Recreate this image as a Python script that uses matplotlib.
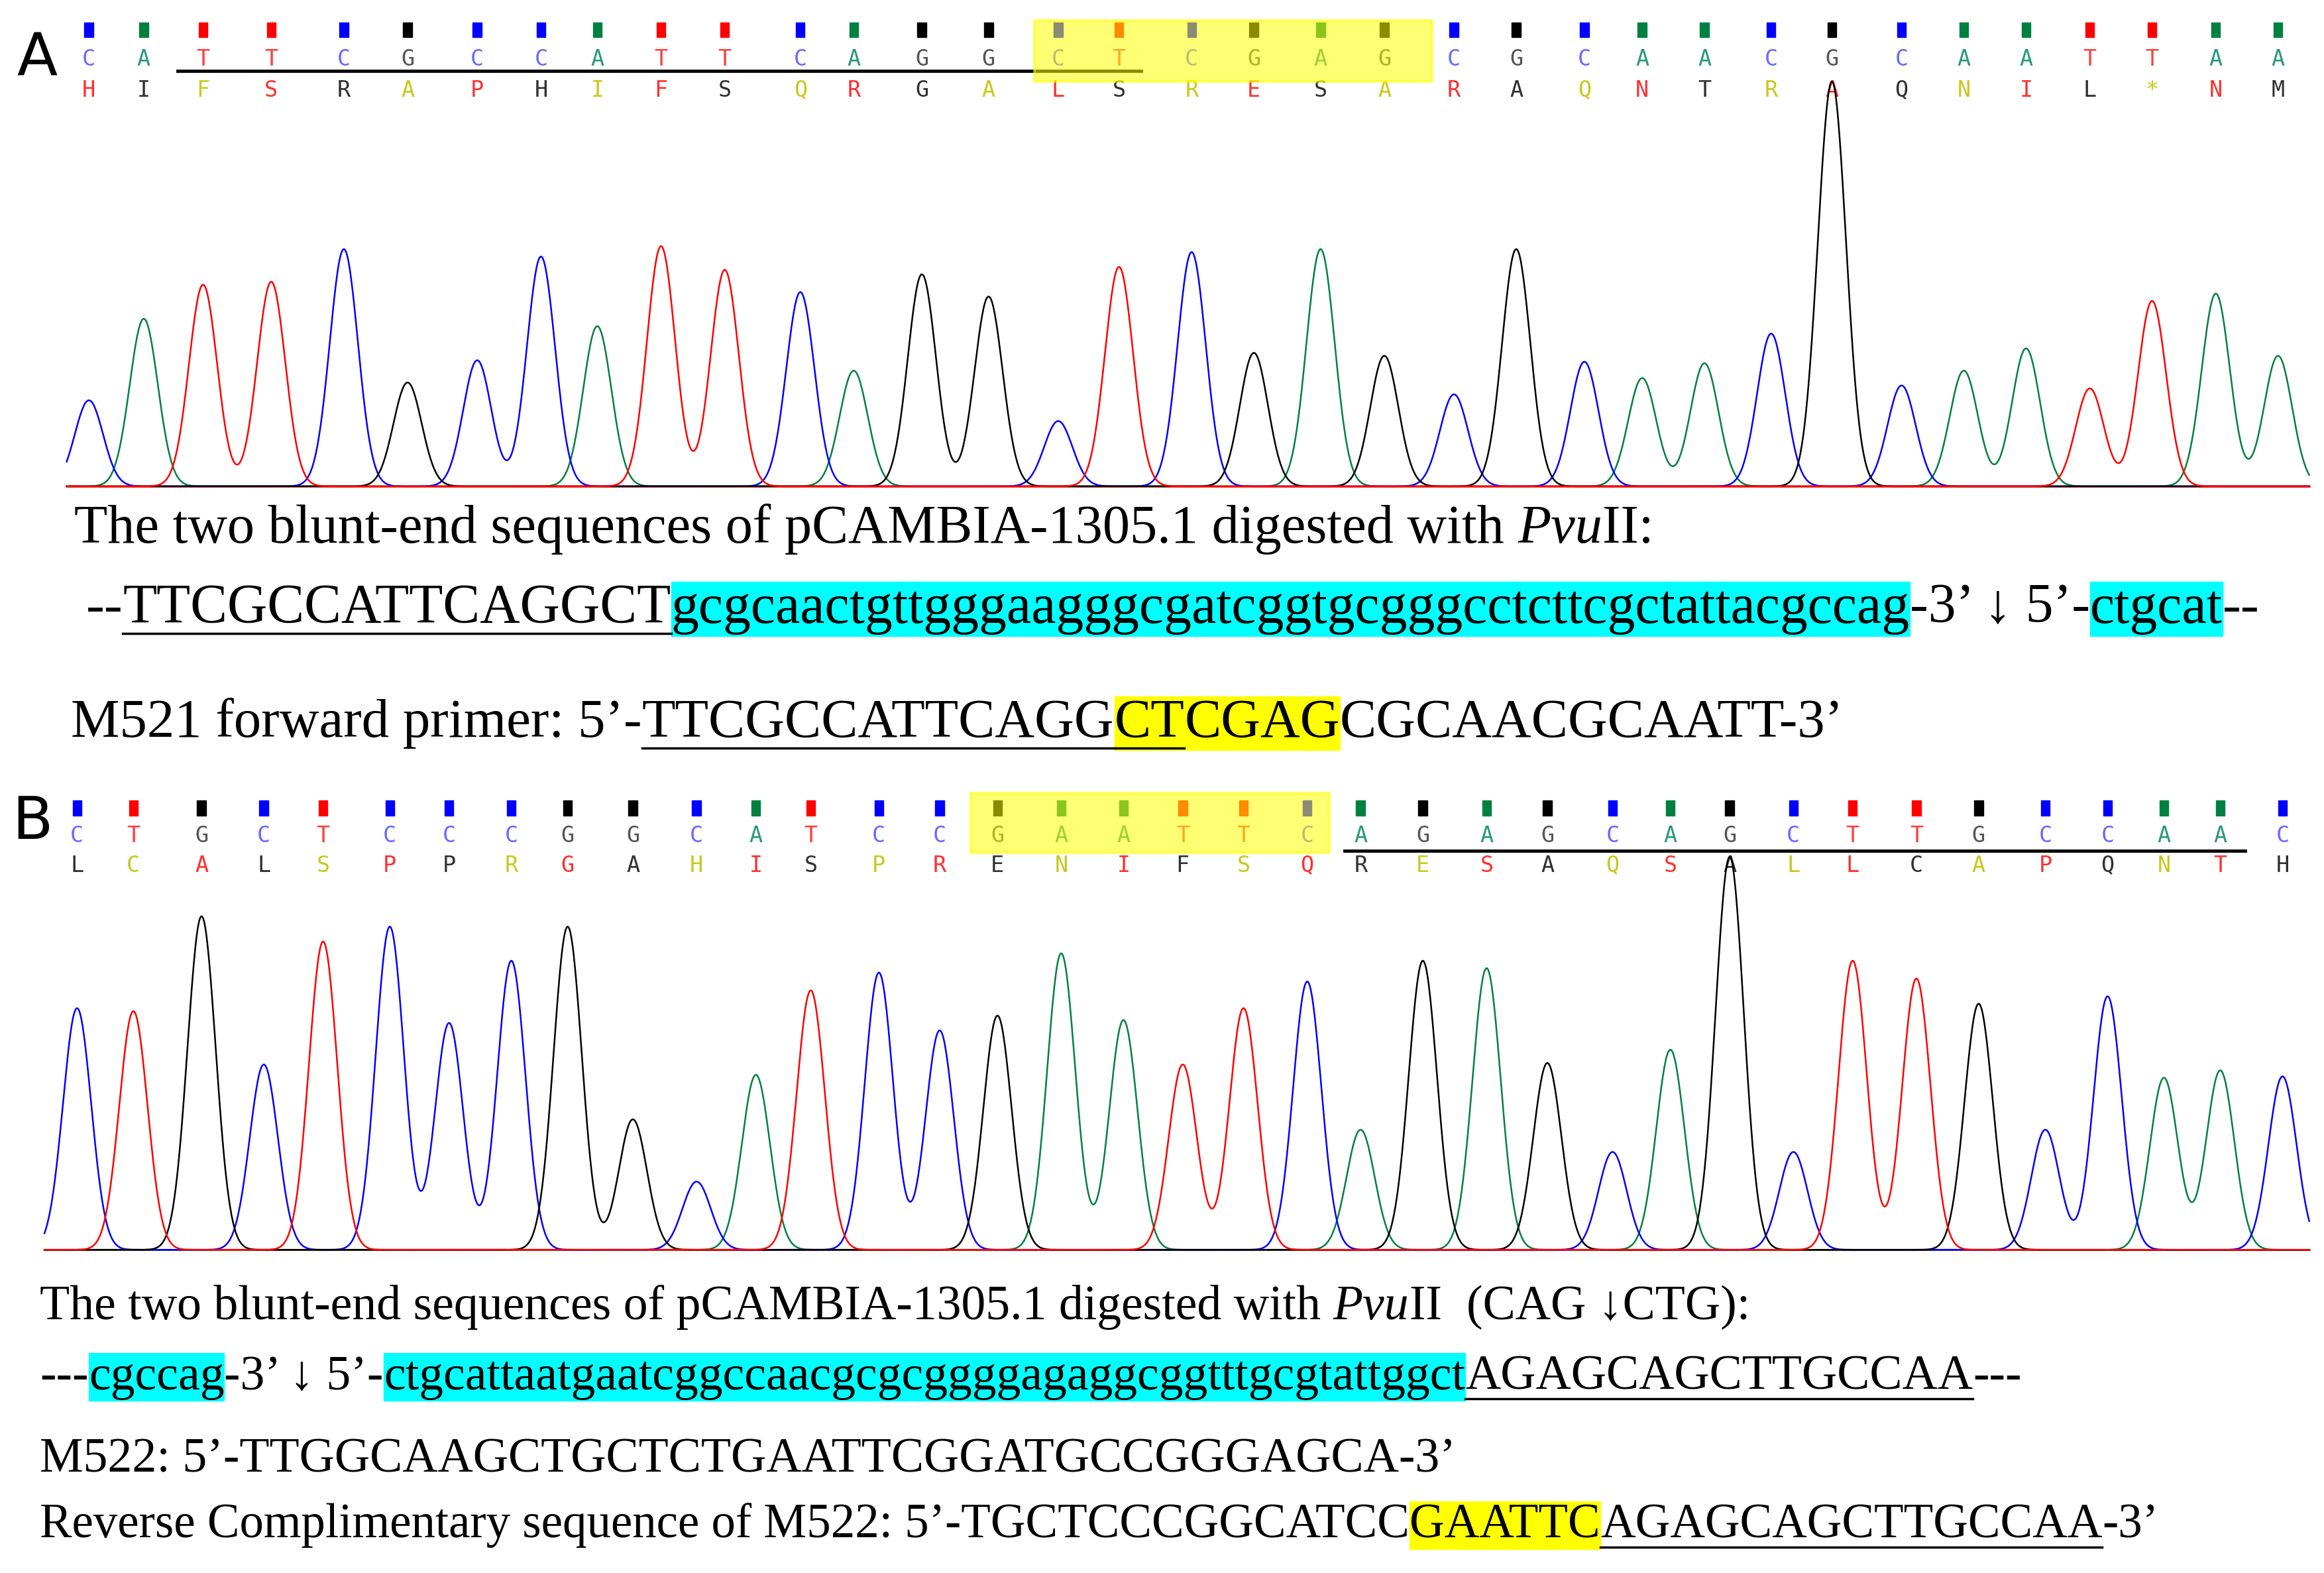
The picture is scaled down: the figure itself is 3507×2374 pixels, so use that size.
import numpy as np
import matplotlib
matplotlib.use("Agg")
import matplotlib.pyplot as plt
from matplotlib.patches import Rectangle

# ---- data ----
bases_a = list("CATTCGCCATTCAGGCTCGAGCGCAACGCAATTAA")
aa_a = list("HIFSRAPHIFSQRGALSRESARAQNTRAQNIL*NM")
aa_cols_a = ["r", "k", "y"] * 12
peak_x_a = [60, 97, 137, 183, 232, 275, 322, 365, 403, 446, 489, 540, 576, 622, 667,
            714, 755, 804, 846, 891, 934, 981, 1023, 1069, 1108, 1150, 1195, 1236,
            1283, 1325, 1367, 1410, 1452, 1495, 1537]
peak_h_a = [58, 113, 136, 138, 160, 70, 85, 155, 108, 162, 146, 131, 78, 143, 128,
            44, 148, 158, 90, 160, 88, 62, 160, 84, 73, 83, 103, 273,
            68, 78, 93, 66, 125, 130, 88]

bases_b = list("CTGCTCCCGGCATCCGAATTCAGAGCAGCTTGCCAAC")
aa_b = list("LCALSPPRGAHISPRENIFSQRESAQSALLCAPQNTH")
aa_cols_b = ["k", "y", "r"] * 13
peak_x_b = [52, 90, 136, 178, 218, 263, 303, 345, 383, 427, 470, 510, 547, 593, 634,
            673, 716, 758, 798, 839, 882, 918, 960, 1003, 1044, 1088, 1127, 1167,
            1210, 1250, 1293, 1335, 1380, 1422, 1460, 1498, 1540]
peak_h_b = [163, 161, 225, 125, 208, 218, 153, 195, 218, 88, 46, 118, 175, 187, 148,
            158, 200, 155, 125, 163, 181, 81, 195, 190, 126, 66, 135, 265,
            66, 195, 183, 166, 81, 171, 116, 121, 117]

BASE_COL = {"A": "#008040", "C": "#0000ff", "G": "#000000", "T": "#ff0000"}
LETTER_COL = {"A": "#2a9a7a", "C": "#6a6aff", "G": "#555555", "T": "#ff4040"}
AA_COL = {"r": "#ff3030", "k": "#303030", "y": "#c8c820"}

W, H = 1568, 1061
S = 3507 / W
fig = plt.figure(figsize=(35.07, 23.74), dpi=100)
ax = fig.add_axes([0, 0, 1, 1])
ax.set_xlim(0, W)
ax.set_ylim(H, 0)
ax.axis("off")


def fs(px):
    return px * S * 72 / 100


SERIF = ["Liberation Serif", "DejaVu Serif"]


def base_rows(bases, aas, aacols, xs, ymark, ybase, yaa):
    for b, a, c, x in zip(bases, aas, aacols, xs):
        ax.add_patch(Rectangle((x - 3, ymark - 5), 6, 10, color=BASE_COL[b], zorder=2))
        ax.text(x, ybase, b, ha="center", va="center", fontsize=fs(15),
                family="DejaVu Sans Mono", color=LETTER_COL[b], zorder=2)
        ax.text(x, yaa, a, ha="center", va="center", fontsize=fs(15),
                family="DejaVu Sans Mono", color=AA_COL[c], zorder=2)


def traces(bases, xs, hs, base_y, x0, x1, sigma=9.5):
    xx = np.linspace(x0, x1, 3000)
    for b in "ACGT":
        yy = np.zeros_like(xx)
        for bb, x, h in zip(bases, xs, hs):
            if bb == b:
                yy += h * np.exp(-0.5 * ((xx - x) / sigma) ** 2)
        ax.plot(xx, base_y - yy, color=BASE_COL[b], lw=1.8, zorder=3)
    ax.plot([x0, x1], [base_y, base_y], color="#ff0000", lw=1.8, zorder=2)


def runs(x, y, parts, size):
    r = fig.canvas.get_renderer()
    inv = ax.transData.inverted()
    for txt, style in parts:
        t = ax.text(x, y, txt, fontsize=fs(size), family=SERIF, va="baseline",
                    style="italic" if "it" in style else "normal", zorder=4)
        bb = t.get_window_extent(r)
        (xa, ya), (xb, yb) = inv.transform([[bb.x0, bb.y0], [bb.x1, bb.y1]])
        if "cyan" in style or "yel" in style:
            ax.add_patch(Rectangle((xa, y - size * 0.74), xb - xa, size * 0.98,
                                   color="#00ffff" if "cyan" in style else "#ffff00", zorder=1))
        if "ul" in style:
            ax.plot([xa, xb], [y + size * 0.2, y + size * 0.2], color="k", lw=2.5, zorder=4)
        x = xb
    return x


# ---- panel A ----
ax.text(25, 40, "A", fontsize=fs(40), ha="center", va="center", family="DejaVu Sans")
base_rows(bases_a, aa_a, aa_cols_a, peak_x_a, 20, 40, 61)
ax.plot([120, 770], [48, 48], color="k", lw=3.5, zorder=3)
ax.add_patch(Rectangle((698, 14), 268, 41, facecolor="#ffff00", alpha=0.55,
                       edgecolor="#ffff00", lw=3, zorder=5))
traces(bases_a, peak_x_a, peak_h_a, 328, 45, 1558)

runs(50, 366, [("The two blunt-end sequences of pCAMBIA-1305.1 digested with ", ""),
               ("Pvu", "it"), ("II:", "")], 36.8)
runs(58, 420, [("--", ""), ("TTCGCCATTCAGGCT", "ul"),
               ("gcgcaactgttgggaagggcgatcggtgcgggcctcttcgctattacgccag", "cyan"),
               ("-3\u2019 \u2193 5\u2019-", ""), ("ctgcat", "cyan"), ("--", "")], 37.4)
runs(48, 497, [("M521 forward primer: 5\u2019-", ""), ("TTCGCCATTCAGG", "ul"),
               ("CT", "yel ul"), ("CGAG", "yel"), ("CGCAACGCAATT-3\u2019", "")], 37)

# ---- panel B ----
ax.text(22, 555, "B", fontsize=fs(40), ha="center", va="center", family="DejaVu Sans")
base_rows(bases_b, aa_b, aa_cols_b, peak_x_b, 545, 564, 584)
ax.plot([907, 1515], [574, 574], color="k", lw=3.5, zorder=3)
ax.add_patch(Rectangle((655, 535), 242, 40, facecolor="#ffff00", alpha=0.55,
                       edgecolor="#ffff00", lw=3, zorder=5))
traces(bases_b, peak_x_b, peak_h_b, 843, 30, 1558)

runs(27, 890, [("The two blunt-end sequences of pCAMBIA-1305.1 digested with ", ""),
               ("Pvu", "it"), ("II  (CAG \u2193CTG):", "")], 33)
runs(27, 937, [("---", ""), ("cgccag", "cyan"), ("-3\u2019 \u2193 5\u2019-", ""),
               ("ctgcattaatgaatcggccaacgcgcggggagaggcggtttgcgtattggct", "cyan"),
               ("AGAGCAGCTTGCCAA", "ul"), ("---", "")], 33)
runs(27, 993, [("M522: 5\u2019-TTGGCAAGCTGCTCTGAATTCGGATGCCGGGAGCA-3\u2019", "")], 33)
runs(27, 1037, [("Reverse Complimentary sequence of M522: 5\u2019-TGCTCCCGGCATCC", ""),
                ("GAATTC", "yel"), ("AGAGCAGCTTGCCAA", "ul"), ("-3\u2019", "")], 32.6)

fig.savefig("out.png", dpi=100)
